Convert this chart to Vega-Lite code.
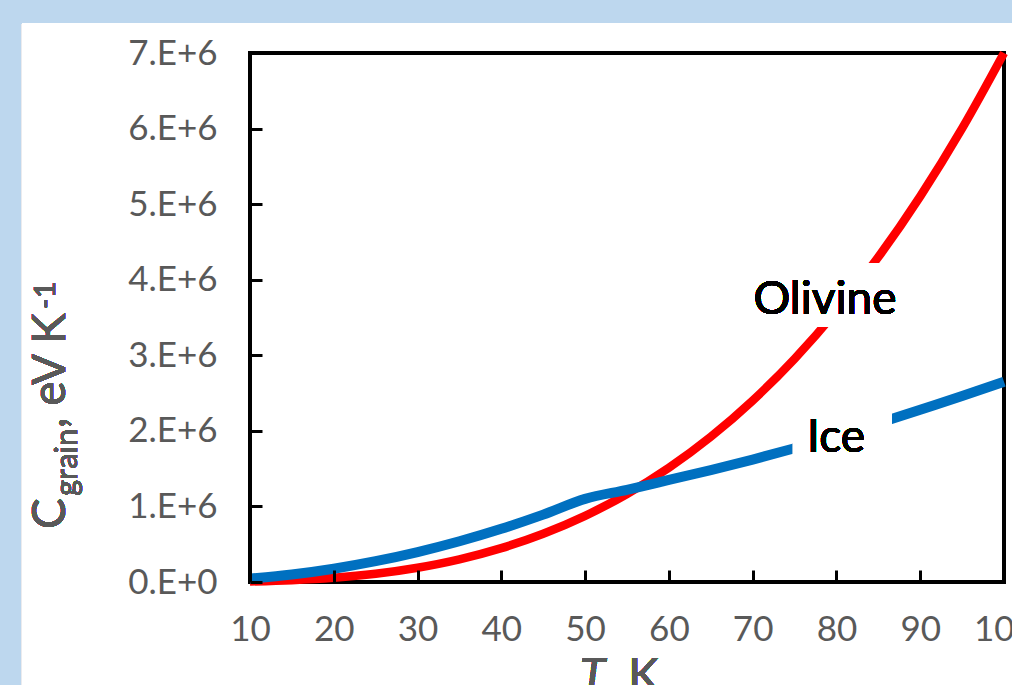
{
  "$schema": "https://vega.github.io/schema/vega-lite/v6.json",
  "width": 754,
  "height": 529,
  "autosize": "none",
  "padding": {"left": 250, "top": 53, "right": 8, "bottom": 103},
  "background": "#bdd7ee",
  "config": {"view": {"stroke": null}, "font": "Lato"},
  "data": {
    "values": [
      {"T": 10, "C": 7000, "material": "Olivine"},
      {"T": 15, "C": 24000, "material": "Olivine"},
      {"T": 20, "C": 56000, "material": "Olivine"},
      {"T": 25, "C": 109000, "material": "Olivine"},
      {"T": 30, "C": 189000, "material": "Olivine"},
      {"T": 35, "C": 300000, "material": "Olivine"},
      {"T": 40, "C": 448000, "material": "Olivine"},
      {"T": 45, "C": 638000, "material": "Olivine"},
      {"T": 50, "C": 875000, "material": "Olivine"},
      {"T": 55, "C": 1165000, "material": "Olivine"},
      {"T": 60, "C": 1512000, "material": "Olivine"},
      {"T": 65, "C": 1922000, "material": "Olivine"},
      {"T": 70, "C": 2401000, "material": "Olivine"},
      {"T": 75, "C": 2953000, "material": "Olivine"},
      {"T": 80, "C": 3584000, "material": "Olivine"},
      {"T": 85, "C": 4299000, "material": "Olivine"},
      {"T": 90, "C": 5103000, "material": "Olivine"},
      {"T": 95, "C": 6002000, "material": "Olivine"},
      {"T": 100, "C": 7000000, "material": "Olivine"},
      {"T": 10, "C": 44000, "material": "Ice"},
      {"T": 15, "C": 99000, "material": "Ice"},
      {"T": 20, "C": 176000, "material": "Ice"},
      {"T": 25, "C": 275000, "material": "Ice"},
      {"T": 30, "C": 396000, "material": "Ice"},
      {"T": 35, "C": 539000, "material": "Ice"},
      {"T": 40, "C": 704000, "material": "Ice"},
      {"T": 45, "C": 891000, "material": "Ice"},
      {"T": 50, "C": 1100000, "material": "Ice"},
      {"T": 55, "C": 1220000, "material": "Ice"},
      {"T": 60, "C": 1350000, "material": "Ice"},
      {"T": 65, "C": 1480000, "material": "Ice"},
      {"T": 70, "C": 1620000, "material": "Ice"},
      {"T": 75, "C": 1770000, "material": "Ice"},
      {"T": 80, "C": 1930000, "material": "Ice"},
      {"T": 85, "C": 2100000, "material": "Ice"},
      {"T": 90, "C": 2280000, "material": "Ice"},
      {"T": 95, "C": 2460000, "material": "Ice"},
      {"T": 100, "C": 2650000, "material": "Ice"}
    ]
  },
  "layer": [
    {
      "description": "white chart panel behind the plot",
      "mark": {"type": "rect", "fill": "white", "clip": false},
      "encoding": {
        "x": {"datum": -17.22, "type": "quantitative", "scale": {"domain": [10, 100], "nice": false, "zero": false},
          "axis": {"values": [10, 20, 30, 40, 50, 60, 70, 80, 90, 100], "format": "d", "title": null, "domain": false, "grid": false,
            "ticks": true, "offset": -12, "tickSize": 12, "tickWidth": 3, "tickColor": "#000000",
            "labelFontSize": 35, "labelColor": "#595959", "labelFont": "Lato",
            "labelPadding": 30, "labelFlush": false, "labelOverlap": false, "zindex": 2}},
        "x2": {"datum": 103.1},
        "y": {"datum": 7390000, "type": "quantitative", "scale": {"domain": [0, 7000000], "nice": false, "zero": false},
          "axis": {"values": [0, 1000000, 2000000, 3000000, 4000000, 5000000, 6000000, 7000000],
            "labelExpr": "datum.value === 0 ? '0.E+0' : format(datum.value / 1000000, 'd') + '.E+6'",
            "title": null, "domain": false, "grid": false,
            "ticks": true, "offset": -12, "tickSize": 12, "tickWidth": 3, "tickColor": "#000000",
            "labelFontSize": 35, "labelColor": "#595959", "labelFont": "Lato",
            "labelPadding": 33, "labelFlush": false, "labelOverlap": false, "zindex": 2}},
        "y2": {"datum": -1694000}
      }
    },
    {
      "description": "plot frame",
      "mark": {"type": "rect", "fill": "transparent", "stroke": "black", "strokeWidth": 3, "clip": false},
      "encoding": {
        "x": {"datum": 10, "type": "quantitative"},
        "x2": {"datum": 100},
        "y": {"datum": 0, "type": "quantitative"},
        "y2": {"datum": 7000000}
      }
    },
    {
      "transform": [{"filter": "datum.material === 'Olivine'"}],
      "mark": {"type": "line", "color": "#ff0000", "strokeWidth": 8.5, "interpolate": "monotone", "clip": false},
      "encoding": {
        "x": {"field": "T", "type": "quantitative"},
        "y": {"field": "C", "type": "quantitative"}
      }
    },
    {
      "transform": [{"filter": "datum.material === 'Ice'"}],
      "mark": {"type": "line", "color": "#0070c0", "strokeWidth": 10, "interpolate": "monotone", "clip": false},
      "encoding": {
        "x": {"field": "T", "type": "quantitative"},
        "y": {"field": "C", "type": "quantitative"}
      }
    },
    {
      "description": "label box for Olivine",
      "mark": {"type": "point", "shape": "M-1,-0.4H1V0.4H-1Z", "size": 25600, "filled": true, "fill": "white", "opacity": 1, "strokeWidth": 0, "clip": false},
      "encoding": {"x": {"datum": 78.63, "type": "quantitative"}, "y": {"datum": 3798000, "type": "quantitative"}}
    },
    {
      "mark": {"type": "text", "text": "Olivine", "fontSize": 46, "font": "Lato", "color": "black", "align": "center", "baseline": "middle", "clip": false},
      "encoding": {"x": {"datum": 78.63, "type": "quantitative"}, "y": {"datum": 3732000, "type": "quantitative"}}
    },
    {
      "description": "label box for Ice",
      "mark": {"type": "point", "shape": "M-1,-0.646H1V0.646H-1Z", "size": 9801, "filled": true, "fill": "white", "opacity": 1, "strokeWidth": 0, "clip": false},
      "encoding": {"x": {"datum": 80.72, "type": "quantitative"}, "y": {"datum": 1905500, "type": "quantitative"}}
    },
    {
      "mark": {"type": "text", "text": "Ice", "fontSize": 46, "font": "Lato", "color": "black", "align": "center", "baseline": "middle", "clip": false},
      "encoding": {"x": {"datum": 79.95, "type": "quantitative"}, "y": {"datum": 1899000, "type": "quantitative"}}
    },
    {
      "description": "y title: C",
      "mark": {"type": "text", "text": "C", "angle": 270, "fontSize": 46, "font": "Lato", "color": "#595959", "align": "left", "baseline": "alphabetic", "clip": false},
      "encoding": {"x": {"datum": -12.08, "type": "quantitative"}, "y": {"datum": 701000, "type": "quantitative"}}
    },
    {
      "description": "y title: subscript",
      "mark": {"type": "text", "text": "grain", "angle": 270, "fontSize": 31, "font": "Lato", "color": "#595959", "align": "left", "baseline": "alphabetic", "clip": false},
      "encoding": {"x": {"datum": -10.65, "type": "quantitative"}, "y": {"datum": 1138000, "type": "quantitative"}}
    },
    {
      "description": "y title: units",
      "mark": {"type": "text", "text": ", eV K", "angle": 270, "fontSize": 46, "font": "Lato", "color": "#595959", "align": "left", "baseline": "alphabetic", "clip": false},
      "encoding": {"x": {"datum": -12.08, "type": "quantitative"}, "y": {"datum": 2038000, "type": "quantitative"}}
    },
    {
      "description": "y title: superscript",
      "mark": {"type": "text", "text": "-1", "angle": 270, "fontSize": 29, "font": "Lato", "color": "#595959", "align": "left", "baseline": "alphabetic", "clip": false},
      "encoding": {"x": {"datum": -13.27, "type": "quantitative"}, "y": {"datum": 3612000, "type": "quantitative"}}
    },
    {
      "description": "x title: italic T",
      "mark": {"type": "text", "text": "T", "fontStyle": "italic", "fontSize": 46, "font": "Lato", "color": "#595959", "align": "left", "baseline": "alphabetic", "clip": false},
      "encoding": {"x": {"datum": 49.39, "type": "quantitative"}, "y": {"datum": -1442000, "type": "quantitative"}}
    },
    {
      "description": "x title: unit",
      "mark": {"type": "text", "text": ", K", "fontSize": 46, "font": "Lato", "color": "#595959", "align": "left", "baseline": "alphabetic", "clip": false},
      "encoding": {"x": {"datum": 52.49, "type": "quantitative"}, "y": {"datum": -1442000, "type": "quantitative"}}
    }
  ]
}
